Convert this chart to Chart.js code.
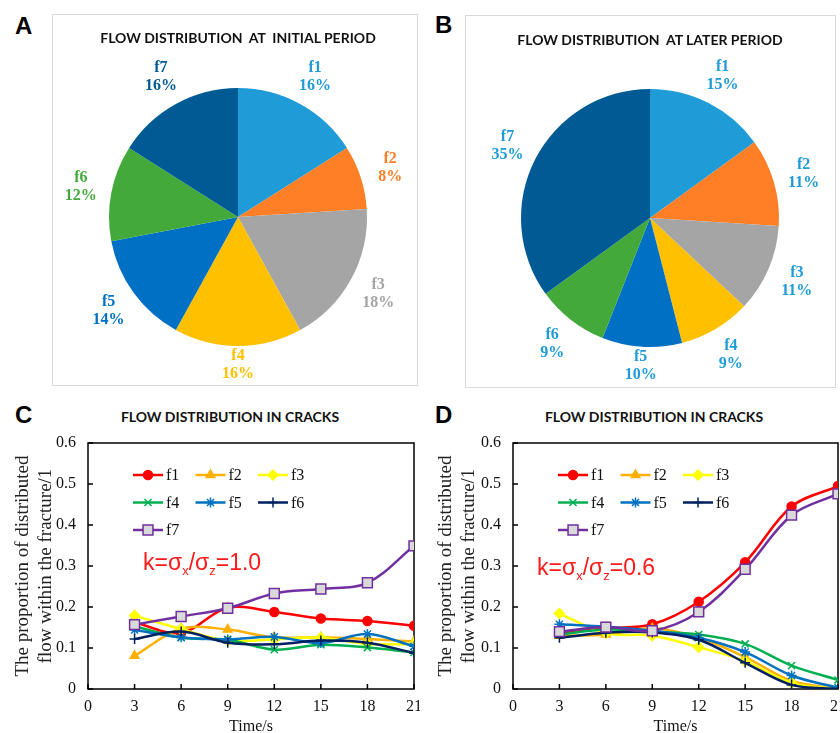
<!DOCTYPE html>
<html>
<head>
<meta charset="utf-8">
<script src="https://cdn.jsdelivr.net/npm/chart.js@4.4.1/dist/chart.umd.min.js"></script>
<style>
  body { margin: 0; background: #fff; }
  #page { position: relative; width: 840px; height: 733px; overflow: hidden; }
  .box { position: absolute; border: 1px solid #d9d9d9; box-sizing: border-box; }
  .tag { position: absolute; font: bold 24px "Liberation Sans", Arial, sans-serif; color: #000; line-height: 24px; }
  .ttl { position: absolute; font: bold 14px Lato, "Open Sans", sans-serif; color: #111; white-space: pre; transform: translate(-50%, -50%); }
  .k { position: absolute; font: 23px "Liberation Sans", Arial, sans-serif; color: #ff1a1a; white-space: nowrap; line-height: 23px; }
  .k sub { font-size: 13px; vertical-align: -5px; line-height: 0; }
  canvas { position: absolute; }
</style>
</head>
<body>
<div id="page">
  <div class="box" style="left:52px;top:14px;width:366px;height:372px"></div>
  <div class="box" style="left:465px;top:15px;width:371px;height:373px"></div>

  <canvas id="pieInitial" width="365" height="371" style="left:52px;top:14px"></canvas>
  <canvas id="pieLater" width="370" height="372" style="left:465px;top:15px"></canvas>
  <canvas id="lineK10" width="420" height="306" style="left:0px;top:430px"></canvas>
  <canvas id="lineK06" width="420" height="306" style="left:420px;top:430px"></canvas>

  <div class="tag" style="left:15px;top:14px">A</div>
  <div class="tag" style="left:435px;top:13px">B</div>
  <div class="tag" style="left:15px;top:403px">C</div>
  <div class="tag" style="left:435px;top:403px">D</div>

  <div class="ttl" style="left:238px;top:37px">FLOW DISTRIBUTION  AT  INITIAL PERIOD</div>
  <div class="ttl" style="left:650px;top:39px">FLOW DISTRIBUTION  AT LATER PERIOD</div>
  <div class="ttl" style="left:230px;top:416px">FLOW DISTRIBUTION IN CRACKS</div>
  <div class="ttl" style="left:654px;top:416px">FLOW DISTRIBUTION IN CRACKS</div>

  <div class="k" style="left:143px;top:551px">k=σ<sub>x</sub>/σ<sub>z</sub>=1.0</div>
  <div class="k" style="left:537px;top:556px">k=σ<sub>x</sub>/σ<sub>z</sub>=0.6</div>
</div>

<script>
// ---------- dados ----------
const sliceNames = ['f1', 'f2', 'f3', 'f4', 'f5', 'f6', 'f7'];
const initialShare = [16, 8, 18, 16, 14, 12, 16];
const laterShare = [15, 11, 11, 9, 10, 9, 35];
const sliceColors = ['#1f9bd7', '#ff7f27', '#a5a5a5', '#ffc000', '#0070c4', '#43a93b', '#005b94'];

const timeSteps = [3, 6, 9, 12, 15, 18, 21];
const yTicks = [0, 0.1, 0.2, 0.3, 0.4, 0.5, 0.6];

// k = 1.0
const k10F1 = [0.162, 0.137, 0.198, 0.188, 0.172, 0.166, 0.154];
const k10F2 = [0.081, 0.147, 0.145, 0.126, 0.126, 0.122, 0.116];
const k10F3 = [0.179, 0.146, 0.118, 0.121, 0.125, 0.110, 0.110];
const k10F4 = [0.153, 0.125, 0.120, 0.096, 0.108, 0.101, 0.089];
const k10F5 = [0.144, 0.126, 0.121, 0.127, 0.112, 0.134, 0.104];
const k10F6 = [0.122, 0.140, 0.113, 0.109, 0.118, 0.113, 0.088];
const k10F7 = [0.157, 0.177, 0.197, 0.233, 0.244, 0.259, 0.349];

// k = 0.6
const k06F1 = [0.135, 0.148, 0.158, 0.213, 0.309, 0.445, 0.495];
const k06F2 = [0.130, 0.133, 0.148, 0.125, 0.078, 0.020, 0.000];
const k06F3 = [0.184, 0.136, 0.130, 0.102, 0.068, 0.015, 0.000];
const k06F4 = [0.133, 0.145, 0.140, 0.133, 0.110, 0.057, 0.022];
const k06F5 = [0.158, 0.152, 0.142, 0.125, 0.090, 0.033, 0.003];
const k06F6 = [0.125, 0.137, 0.138, 0.120, 0.064, 0.010, 0.000];
const k06F7 = [0.140, 0.151, 0.142, 0.188, 0.292, 0.424, 0.476];

// estilo de cada série (cor, marcador)
const seriesColors = ['#ff0000', '#ffb000', '#ffff00', '#00b050', '#0070c0', '#002060', '#7030a0'];
const seriesMarkers = ['circle', 'triangle', 'rectRot', 'crossRot', 'star', 'cross', 'rect'];

const serif = '"Liberation Serif", "Times New Roman", serif';

// ---------- plugins ----------
// rótulos "fN / xx%" fora das fatias (os de baixo ficam um pouco mais perto)
const sliceLabels = {
  id: 'sliceLabels',
  afterDatasetsDraw(chart, args, opts) {
    const ctx = chart.ctx;
    const meta = chart.getDatasetMeta(0);
    ctx.save();
    ctx.font = 'bold 16px ' + serif;
    ctx.textAlign = 'center';
    ctx.textBaseline = 'middle';
    meta.data.forEach((arc, i) => {
      const mid = (arc.startAngle + arc.endAngle) / 2;
      const down = Math.max(0, Math.sin(mid));
      const r = arc.outerRadius * 1.24 - 12 * Math.pow(down, 16);
      const x = arc.x + Math.cos(mid) * r;
      const y = arc.y + Math.sin(mid) * r;
      ctx.fillStyle = opts.textColors[i];
      ctx.fillText(chart.data.labels[i], x, y - 9);
      ctx.fillText(chart.data.datasets[0].data[i] + '%', x, y + 9);
    });
    ctx.restore();
  }
};

// moldura preta + ticks para dentro
const frame = {
  id: 'frame',
  beforeDatasetsDraw(chart) {
    const { ctx, chartArea: a, scales } = chart;
    ctx.save();
    ctx.strokeStyle = '#000';
    ctx.lineWidth = 1.5;
    ctx.strokeRect(a.left, a.top, a.right - a.left, a.bottom - a.top);
    ctx.beginPath();
    scales.x.ticks.forEach(t => {
      const px = scales.x.getPixelForValue(t.value);
      ctx.moveTo(px, a.bottom);
      ctx.lineTo(px, a.bottom - 5);
    });
    scales.y.ticks.forEach(t => {
      const py = scales.y.getPixelForValue(t.value);
      ctx.moveTo(a.left, py);
      ctx.lineTo(a.left + 5, py);
    });
    ctx.stroke();
    ctx.restore();
  }
};

// legenda dentro da área do gráfico, 3 colunas
const insideLegend = {
  id: 'insideLegend',
  afterDraw(chart) {
    const { ctx, chartArea: a } = chart;
    ctx.save();
    chart.data.datasets.forEach((ds, i) => {
      const x = a.left + 45 + (i % 3) * 62.5;
      const y = a.top + 32 + Math.floor(i / 3) * 27.5;
      ctx.strokeStyle = ds.borderColor;
      ctx.lineWidth = ds.borderWidth;
      ctx.beginPath();
      ctx.moveTo(x, y);
      ctx.lineTo(x + 30, y);
      ctx.stroke();
      ctx.fillStyle = ds.pointBackgroundColor;
      ctx.strokeStyle = ds.pointBorderColor;
      ctx.lineWidth = ds.pointBorderWidth;
      Chart.helpers.drawPoint(ctx, {
        pointStyle: ds.pointStyle, radius: ds.pointRadius,
        borderWidth: ds.pointBorderWidth, rotation: 0
      }, x + 15, y);
      ctx.fillStyle = '#111';
      ctx.font = '16px ' + serif;
      ctx.textAlign = 'left';
      ctx.textBaseline = 'middle';
      ctx.fillText(ds.label, x + 33, y + 1);
    });
    ctx.restore();
  }
};

// ---------- pizzas ----------
function makePie(id, shares, textColors, pad) {
  new Chart(document.getElementById(id), {
    type: 'pie',
    data: {
      labels: sliceNames,
      datasets: [{ data: shares, backgroundColor: sliceColors, borderWidth: 0 }]
    },
    options: {
      responsive: false,
      animation: false,
      events: [],
      layout: { padding: pad },
      plugins: {
        legend: { display: false },
        tooltip: { enabled: false },
        sliceLabels: { textColors: textColors }
      }
    },
    plugins: [sliceLabels]
  });
}

makePie('pieInitial', initialShare, sliceColors,
  { left: 57, right: 50, top: 74, bottom: 39 });
makePie('pieLater', laterShare, sliceNames.map(() => '#1f9bd7'),
  { left: 56, right: 56, top: 74, bottom: 40 });

// ---------- linhas ----------
function makeLines(id, seriesList, yAxisWidth, titlePad, rightPad) {
  const datasets = seriesList.map((vals, i) => ({
    label: sliceNames[i],
    data: timeSteps.map((t, j) => ({ x: t, y: vals[j] })),
    borderColor: seriesColors[i],
    borderWidth: 2.5,
    tension: 0.35,
    pointStyle: seriesMarkers[i],
    pointRadius: i === 6 ? 7 : (i === 0 ? 4.5 : 5),
    pointBackgroundColor: i === 6 ? '#d9d9d9' : seriesColors[i],
    pointBorderColor: seriesColors[i],
    pointBorderWidth: 1.5,
    order: 6 - i
  }));

  new Chart(document.getElementById(id), {
    type: 'line',
    data: { datasets: datasets },
    options: {
      responsive: false,
      animation: false,
      events: [],
      layout: { autoPadding: false, padding: { top: 13, right: rightPad, left: 0, bottom: 0 } },
      plugins: { legend: { display: false }, tooltip: { enabled: false } },
      scales: {
        x: {
          type: 'linear', min: 0, max: 21,
          grid: { display: false, drawTicks: false }, border: { display: false },
          ticks: { stepSize: 3, padding: 8, color: '#111', font: { family: serif, size: 16 } },
          title: { display: true, text: 'Time/s', color: '#111', padding: { top: 0, bottom: 0 },
                   font: { family: serif, size: 16 } },
          afterFit(scale) {
            scale.height = 47;
            scale.paddingLeft = 0;
            scale.paddingRight = 0;
          }
        },
        y: {
          min: 0, max: 0.6,
          grid: { display: false, drawTicks: false }, border: { display: false },
          afterBuildTicks(scale) { scale.ticks = yTicks.map(v => ({ value: v })); },
          ticks: { padding: 12, color: '#111', font: { family: serif, size: 16 } },
          title: {
            display: true,
            text: ['The proportion of distributed', 'flow within the fracture/1'],
            color: '#222', padding: { top: titlePad, bottom: 0 },
            font: { family: serif, size: 19 }
          },
          afterFit(scale) {
            scale.width = yAxisWidth;
            scale.paddingTop = 0;
            scale.paddingBottom = 0;
          }
        }
      }
    },
    plugins: [frame, insideLegend]
  });
}

makeLines('lineK10', [k10F1, k10F2, k10F3, k10F4, k10F5, k10F6, k10F7], 88, 11.5, 6);
makeLines('lineK06', [k06F1, k06F2, k06F3, k06F4, k06F5, k06F6, k06F7], 93, 14.5, 2);
</script>
</body>
</html>
